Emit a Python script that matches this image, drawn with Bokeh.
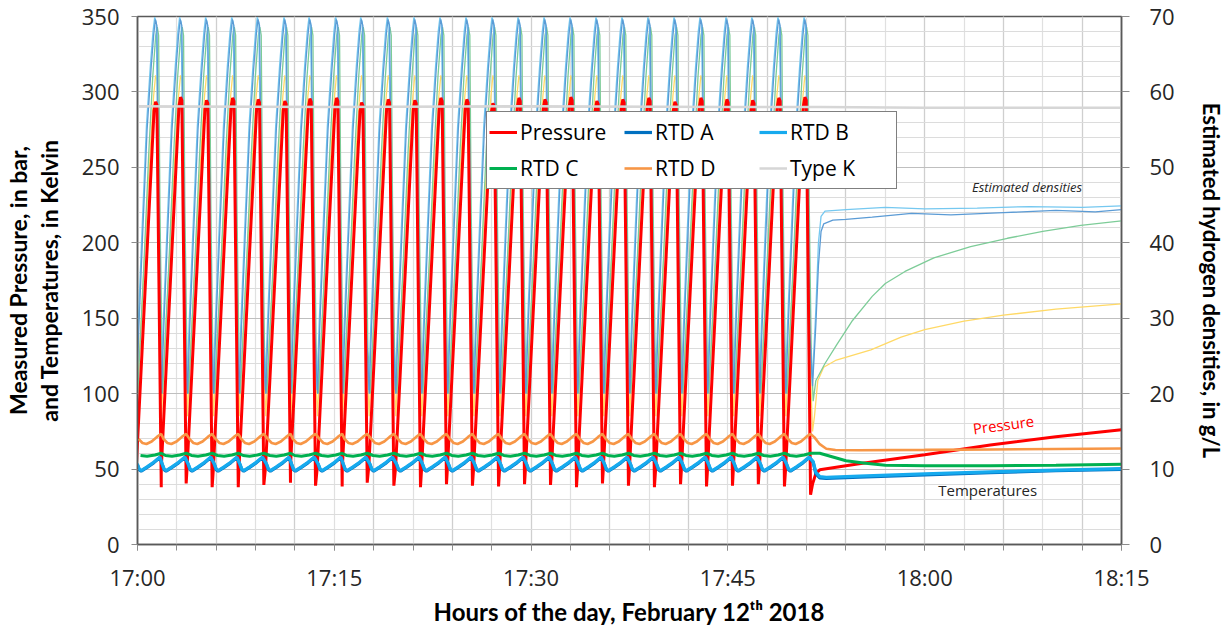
import math
from bokeh.plotting import figure
from bokeh.models import Range1d, LinearAxis, FixedTicker, Legend, LegendItem, Label
from bokeh.embed import file_html
from bokeh.resources import INLINE

# ---------------- data (minutes after 17:00) ----------------
x_tick_minutes = [0, 15, 30, 45, 60, 75]
x_tick_labels = ["17:00", "17:15", "17:30", "17:45", "18:00", "18:15"]

# end of each venting (pressure trough), minutes after 17:00
vent_times = [1.81, 3.71, 5.69, 7.68, 9.63, 11.66, 13.57, 15.60, 17.51, 19.54,
              21.57, 23.55, 25.53, 27.52, 29.50, 31.48, 33.46, 35.44, 37.42, 39.40,
              41.39, 43.37, 45.35, 47.32, 49.31, 51.30]
peak_pressure = [293.5, 296.5, 294.5, 296.0, 295.0, 294.0, 295.5, 296.0, 293.0, 295.0,
                 294.5, 296.0, 295.0, 292.5, 296.0, 295.0, 296.5, 294.0, 295.0, 296.0,
                 293.5, 296.0, 295.0, 294.5, 296.0, 296.5]
trough_pressure = [38.0, 40.5, 38.0, 38.0, 39.5, 41.0, 39.0, 38.5, 41.0, 39.0,
                   38.0, 40.0, 39.0, 38.5, 40.0, 39.5, 38.0, 40.5, 39.0, 38.0,
                   40.0, 38.5, 39.0, 40.0, 38.5, 33.0]
first_trough = 40.0

# time offsets (min) of the within-cycle points, relative to each vent
pressure_dt = [-1.90, -0.55, -0.43, -0.33, 0.0]

rtdB_dt = [-1.83, -1.68, -1.53, -1.08, -0.58, -0.10]
rtdB_cycle = [53.5, 50.0, 49.0, 51.5, 54.5, 58.0]
rtdA_cycle = [53.1, 49.6, 48.6, 51.1, 54.1, 57.6]
rtdC_dt = [-1.58, -1.08, -0.48, 0.0]
rtdC_cycle = [59.0, 58.5, 59.3, 60.5]
rtdD_dt = [-1.73, -1.43, -1.13, -0.73, -0.33, 0.0]
rtdD_cycle = [70.0, 67.3, 66.6, 68.3, 71.3, 73.3]

# densities (g/L) within a cycle
densA_dt = [-1.88, -1.70, -1.42, -1.08, -0.78, -0.58, -0.45, -0.33, -0.20, -0.05]
densA_cycle = [20.0, 29.0, 41.0, 55.0, 63.0, 67.5, 69.6, 68.8, 50.0, 28.0]
densB_dt = [-1.93, -1.75, -1.47, -1.13, -0.83, -0.63, -0.50, -0.38, -0.25, -0.10]
densB_cycle = [20.5, 29.5, 41.5, 55.5, 63.5, 68.0, 69.9, 69.2, 50.5, 28.5]
densC_dt = [-1.80, -1.60, -1.30, -0.95, -0.65, -0.42, -0.30, -0.20, -0.10, 0.05]
densC_cycle = [20.0, 27.0, 38.0, 52.0, 62.0, 67.5, 68.6, 67.5, 45.0, 26.0]
densD_dt = [-1.88, -1.70, -1.42, -1.08, -0.78, -0.58, -0.43, -0.32, -0.20, -0.05]
densD_cycle = [17.0, 24.0, 33.0, 45.0, 54.0, 59.5, 62.2, 61.5, 45.0, 25.0]

# after the last cycle
post_p_t = [51.45, 51.70, 52.00, 55.0, 60.0, 65.0, 70.0, 75.0]
post_p = [40.0, 47.0, 49.5, 53.5, 59.5, 66.0, 71.5, 76.0]
post_B_t = [51.50, 51.70, 52.00, 52.50, 55.0, 60.0, 65.0, 70.0, 75.0]
post_B = [55.0, 48.0, 45.0, 44.5, 45.3, 46.8, 48.2, 49.3, 50.3]
post_A = [54.5, 47.0, 44.2, 43.8, 44.6, 46.2, 47.7, 48.9, 49.8]
post_C_t = [52.0, 53.0, 54.0, 55.5, 57.0, 60.0, 65.0, 70.0, 75.0]
post_C = [60.5, 58.0, 55.5, 53.8, 52.6, 52.2, 52.2, 52.6, 53.2]
post_D_t = [51.60, 52.00, 52.50, 53.20, 55.0, 60.0, 65.0, 70.0, 75.0]
post_D = [71.0, 66.5, 63.5, 62.6, 62.5, 62.7, 63.0, 63.3, 63.6]
typeK_t = [0, 15, 30, 45, 52, 60, 75]
typeK = [290.5, 290.0, 290.5, 290.0, 290.0, 289.5, 289.5]

post_dA_t = [51.45, 51.70, 51.90, 52.10, 52.30, 53.0, 54.0, 56.0, 59.0, 62.0, 66.0, 70.0, 73.0, 75.0]
post_dA = [21.0, 29.0, 37.0, 41.5, 42.5, 43.0, 43.1, 43.4, 43.9, 43.7, 44.0, 44.3, 44.1, 44.4]
post_dB_t = [51.45, 51.70, 51.90, 52.10, 52.40, 54.0, 57.0, 60.0, 64.0, 68.0, 72.0, 75.0]
post_dB = [22.0, 31.0, 40.0, 43.5, 44.2, 44.4, 44.7, 44.5, 44.6, 44.8, 44.7, 44.9]
post_dC_t = [51.50, 51.70, 52.40, 53.30, 54.50, 56.0, 57.0, 58.5, 60.7, 63.5, 66.3, 69.0, 71.9, 75.0]
post_dC = [19.0, 21.7, 24.0, 26.5, 29.7, 32.9, 34.6, 36.2, 38.0, 39.5, 40.6, 41.5, 42.3, 42.9]
post_dD_t = [51.45, 51.60, 51.85, 52.30, 53.20, 55.9, 58.2, 60.0, 63.0, 66.0, 70.0, 75.0]
post_dD = [15.0, 17.0, 21.7, 23.5, 24.4, 25.8, 27.5, 28.5, 29.6, 30.4, 31.2, 31.9]


def cycles(dts, vals, post_t, post_v):
    xs, ys = [], []
    for v in vent_times:
        for d, y in zip(dts, vals):
            xs.append(v + d)
            ys.append(y)
    return xs + list(post_t), ys + list(post_v)


# pressure
px, py = [], []
prev = first_trough
for v, pk, tr in zip(vent_times, peak_pressure, trough_pressure):
    for d, y in zip(pressure_dt, [prev + 12.0, pk - 6.0, pk, pk - 2.0, tr]):
        px.append(v + d)
        py.append(y)
    prev = tr
px += post_p_t
py += post_p

aX, aY = cycles(rtdB_dt, rtdA_cycle, post_B_t, post_A)
bX, bY = cycles(rtdB_dt, rtdB_cycle, post_B_t, post_B)
cX, cY = cycles(rtdC_dt, rtdC_cycle, post_C_t, post_C)
dX, dY = cycles(rtdD_dt, rtdD_cycle, post_D_t, post_D)
daX, daY = cycles(densA_dt, densA_cycle, post_dA_t, post_dA)
dbX, dbY = cycles(densB_dt, densB_cycle, post_dB_t, post_dB)
dcX, dcY = cycles(densC_dt, densC_cycle, post_dC_t, post_dC)
ddX, ddY = cycles(densD_dt, densD_cycle, post_dD_t, post_dD)

# ---------------- figure ----------------
TXT = "#262626"
p = figure(width=1231, height=630, output_backend="svg", toolbar_location=None,
           x_range=Range1d(0, 75), y_range=Range1d(0, 350),
           min_border_left=137, min_border_right=110, min_border_top=16,
           min_border_bottom=86, background_fill_color="white",
           border_fill_color="white")
p.extra_y_ranges = {"dens": Range1d(0, 70)}
p.outline_line_color = "#595959"
p.outline_line_width = 1.5

xax = p.xaxis[0]
lax = p.yaxis[0]
right = LinearAxis(y_range_name="dens", ticker=FixedTicker(ticks=list(range(0, 71, 10))))
p.add_layout(right, "right")

xax.ticker = FixedTicker(ticks=x_tick_minutes, minor_ticks=list(range(0, 76, 3)))
xax.major_label_overrides = {m: s for m, s in zip(x_tick_minutes, x_tick_labels)}
lax.ticker = FixedTicker(ticks=list(range(0, 351, 50)), minor_ticks=list(range(0, 351, 10)))

for ax in [xax, lax, right]:
    ax.axis_line_color = "#595959"
    ax.axis_line_width = 1.5
    ax.major_tick_line_color = "#8c8c8c"
    ax.minor_tick_line_color = "#8c8c8c"
    ax.major_tick_in = 0
    ax.minor_tick_in = 0
    ax.major_label_text_font = "Open Sans"
    ax.major_label_text_font_size = "22px"
    ax.major_label_text_color = TXT
    ax.axis_label_text_font = "Lato"
    ax.axis_label_text_font_style = "bold"
    ax.axis_label_text_font_size = "23px"
    ax.axis_label_text_color = "black"
xax.major_tick_out = 6
xax.minor_tick_out = 6
xax.major_label_standoff = 11
xax.axis_label = "Hours of the day, February 12ᵗʰ 2018"
xax.axis_label_standoff = 2
xax.axis_label_text_font_size = "24px"
lax.major_tick_out = 6
lax.minor_tick_out = 0
lax.major_label_standoff = 12
lax.axis_label = "and Temperatures, in Kelvin"
lax.axis_label_standoff = 16
right.major_tick_out = 8
right.minor_tick_out = 0
right.major_label_standoff = 20
right.axis_label = "Estimated hydrogen densities, in g/L"
right.axis_label_standoff = 20
right.axis_label_text_font_size = "22px"

# outer left axis carrying the first line of the left title
left2 = LinearAxis(ticker=FixedTicker(ticks=[]), axis_line_color=None,
                   major_tick_line_color=None, minor_tick_line_color=None,
                   major_label_text_font_size="0px", major_tick_out=0, minor_tick_out=0,
                   major_label_standoff=0, axis_label="Measured Pressure, in bar,",
                   axis_label_standoff=0, axis_label_text_font="Lato",
                   axis_label_text_font_style="bold", axis_label_text_font_size="23px",
                   axis_label_text_color="black")
p.add_layout(left2, "left")

# grids
p.ygrid.grid_line_color = "#bfbfbf"
p.ygrid.grid_line_width = 1.2
p.ygrid.minor_grid_line_color = "#dcdcdc"
p.ygrid.minor_grid_line_width = 1.2
p.xgrid.ticker = FixedTicker(ticks=list(range(0, 76, 6)), minor_ticks=list(range(0, 76, 3)))
p.xgrid.grid_line_color = "#cfcfcf"
p.xgrid.grid_line_width = 1.2
p.xgrid.minor_grid_line_color = "#e0e0e0"
p.xgrid.minor_grid_line_width = 1.2

# density lines (thin, right axis)
p.line(ddX, ddY, y_range_name="dens", line_color="#ffd966", line_width=1.3)
p.line(dcX, dcY, y_range_name="dens", line_color="#7dcc98", line_width=1.3)
p.line(dbX, dbY, y_range_name="dens", line_color="#75c8f0", line_width=1.3)
p.line(daX, daY, y_range_name="dens", line_color="#5b9bd5", line_width=1.3)

# pressure and temperatures (thick, left axis)
r_p = p.line(px, py, line_color="#ff0000", line_width=3)
r_a = p.line(aX, aY, line_color="#0070c0", line_width=3.2)
r_b = p.line(bX, bY, line_color="#16aaee", line_width=3.2)
r_c = p.line(cX, cY, line_color="#00b050", line_width=3)
r_d = p.line(dX, dY, line_color="#f79646", line_width=2.6)
r_k = p.line(typeK_t, typeK, line_color="#d6d6d6", line_width=2.5)

legend = Legend(items=[
    LegendItem(label="Pressure", renderers=[r_p]),
    LegendItem(label="RTD A", renderers=[r_a]),
    LegendItem(label="RTD B", renderers=[r_b]),
    LegendItem(label="RTD C", renderers=[r_c]),
    LegendItem(label="RTD D", renderers=[r_d]),
    LegendItem(label="Type K", renderers=[r_k]),
], orientation="horizontal", ncols=3, location=(349, 355),
    label_text_font="Open Sans", label_text_font_size="21px", label_text_color="black",
    glyph_width=28, glyph_height=36, label_height=36, label_width=104,
    label_standoff=3, spacing=0, padding=2, margin=0,
    border_line_color="black", border_line_width=1.5,
    background_fill_color="white", background_fill_alpha=1.0)
p.add_layout(legend, "center")

# annotations
p.add_layout(Label(x=67.8, y=237, text="Estimated densities", text_align="center",
                   text_baseline="middle", text_font="Open Sans", text_font_style="italic",
                   text_font_size="13px", text_color=TXT))
p.add_layout(Label(x=66.0, y=79.5, text="Pressure", angle=math.radians(7.5),
                   text_align="center", text_baseline="middle", text_font="Open Sans",
                   text_font_size="15px", text_color="#ff0000"))
p.add_layout(Label(x=64.8, y=36.4, text="Temperatures", text_align="center",
                   text_baseline="middle", text_font="Open Sans",
                   text_font_size="15px", text_color=TXT))

open("out.html", "w").write(file_html(p, INLINE))
